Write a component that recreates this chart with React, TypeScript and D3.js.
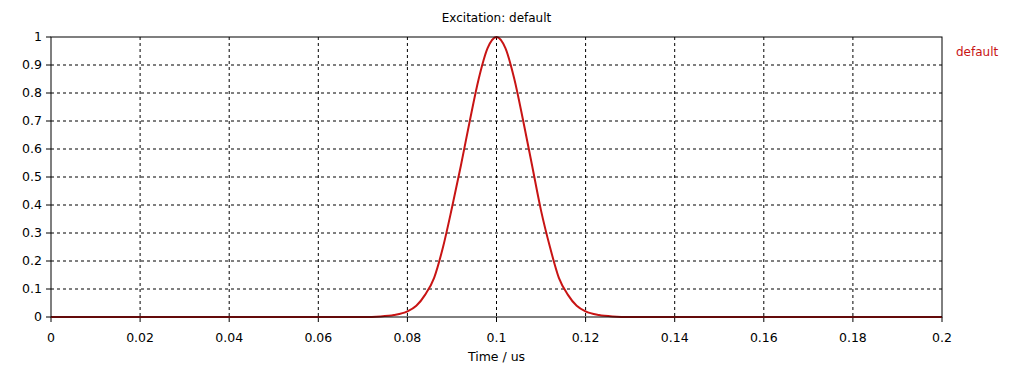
import React from "react";
import * as d3 from "d3";

// values
const times = [0, 0.07, 0.074, 0.077, 0.08, 0.082, 0.084, 0.086, 0.088, 0.09, 0.092, 0.094, 0.096, 0.098, 0.1,
    0.102, 0.104, 0.106, 0.108, 0.11, 0.112, 0.114, 0.116, 0.118, 0.12, 0.123, 0.126, 0.13, 0.2];
const amplitude = [0, 0, 0.002, 0.007, 0.02, 0.04, 0.08, 0.14, 0.25, 0.39, 0.54, 0.7, 0.85, 0.96, 1,
    0.96, 0.85, 0.7, 0.54, 0.38, 0.25, 0.14, 0.08, 0.04, 0.02, 0.007, 0.002, 0, 0];
const xTicks = [0, 0.02, 0.04, 0.06, 0.08, 0.1, 0.12, 0.14, 0.16, 0.18, 0.2];
const yTicks = [0, 0.1, 0.2, 0.3, 0.4, 0.5, 0.6, 0.7, 0.8, 0.9, 1];
const seriesName = "default";

const width = 1031, height = 370;
const margin = {top: 37, right: 89, bottom: 53, left: 51};
const font = "Tahoma, 'DejaVu Sans', sans-serif";

const App = () => {
    const x = d3.scaleLinear().domain([0, 0.2]).range([margin.left, width - margin.right]);
    const y = d3.scaleLinear().domain([0, 1]).range([height - margin.bottom, margin.top]);

    const line = d3.line<number>()
        .x((_, i) => x(times[i]))
        .y((d) => y(d))
        .curve(d3.curveMonotoneX);

    const fmt = (d: number) => String(+d.toFixed(2));
    const x0 = x(0), x1 = x(0.2), y0 = y(0), y1 = y(1);

    return (
        <svg width={width} height={height}
             style={{position: "absolute", left: 0, top: 0, background: "#fff", fontFamily: font}}>
            <text x={(x0 + x1) / 2} y={22} textAnchor="middle" fontSize={12}>Excitation: default</text>

            {/* grid */}
            {xTicks.slice(1, -1).map(t => (
                <line key={"gx" + t} x1={x(t)} x2={x(t)} y1={y1} y2={y0}
                      stroke="#000" strokeDasharray="3,3"/>
            ))}
            {yTicks.slice(1, -1).map(t => (
                <line key={"gy" + t} x1={x0} x2={x1} y1={y(t)} y2={y(t)}
                      stroke="#000" strokeDasharray="3,3"/>
            ))}

            {/* ticks and labels */}
            {yTicks.map(t => (
                <g key={"ty" + t}>
                    <line x1={x0 - 5} x2={x0} y1={y(t)} y2={y(t)} stroke="#000"/>
                    <text x={x0 - 9} y={y(t) + 4} textAnchor="end" fontSize={12.5}>{fmt(t)}</text>
                </g>
            ))}
            {xTicks.map(t => (
                <g key={"tx" + t}>
                    <line x1={x(t)} x2={x(t)} y1={y0} y2={y0 + 5} stroke="#000"/>
                    <text x={x(t)} y={y0 + 25} textAnchor="middle" fontSize={12.5}>{fmt(t)}</text>
                </g>
            ))}

            <path d={line(amplitude) || ""} fill="none" stroke="#c81414" strokeWidth={2}/>

            <rect x={x0} y={y1} width={x1 - x0} height={y0 - y1} fill="none" stroke="#000"/>

            <text x={(x0 + x1) / 2} y={361} textAnchor="middle" fontSize={12.5}>Time / us</text>
            <text x={956} y={56} fontSize={12} fill="#c81414">{seriesName}</text>
        </svg>
    );
};

export default App;
